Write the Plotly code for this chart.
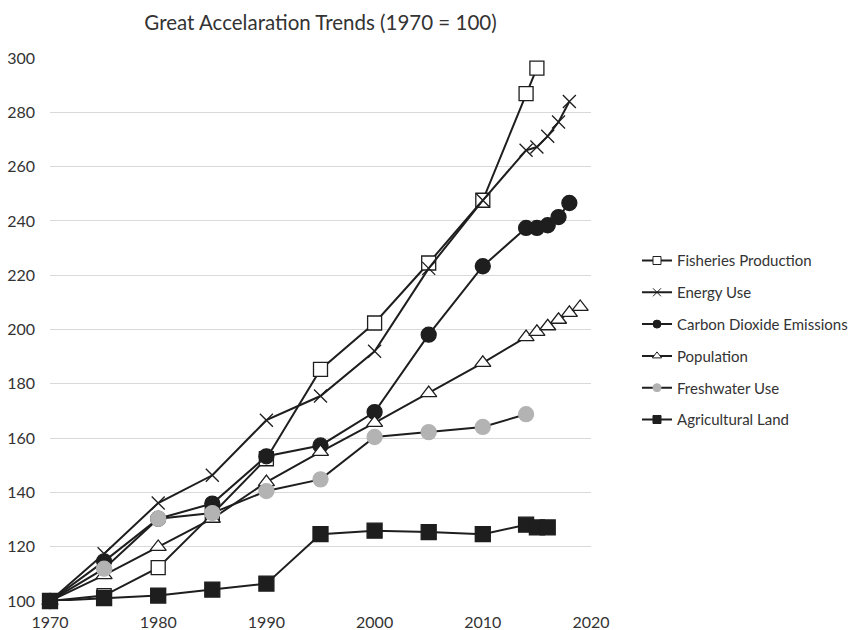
import plotly.graph_objects as go

years_main = [1970, 1975, 1980, 1985, 1990, 1995, 2000, 2005, 2010]

fish_years = years_main + [2014, 2015]
fish_vals = [100, 102, 112.3, 132, 152.4, 185.3, 202.4, 224.5, 247.6, 286.9, 296.3]

energy_years = years_main + [2014, 2015, 2016, 2017, 2018]
energy_vals = [100, 117.4, 136.1, 146.3, 166.6, 175.5, 192, 222.5, 247.6, 266, 267.2, 271.2, 276.4, 284]

co2_years = years_main + [2014, 2015, 2016, 2017, 2018]
co2_vals = [100, 114.6, 130.3, 135.9, 153.3, 157.3, 169.6, 198.1, 223.3, 237.4, 237.4, 238.4, 241.4, 246.6]

pop_years = years_main + [2014, 2015, 2016, 2017, 2018, 2019]
pop_vals = [100, 109.5, 119.9, 130.3, 143.8, 154.9, 165.6, 176.6, 187.7, 197.2, 199.1, 201.2, 203.6, 206.1, 208.3]

fresh_years = years_main + [2014]
fresh_vals = [100, 111.9, 130.3, 132.4, 140.5, 144.8, 160.4, 162.2, 164.1, 168.8]

agri_years = years_main + [2014, 2015, 2016]
agri_vals = [100, 101.1, 102, 104.2, 106.4, 124.6, 125.9, 125.4, 124.6, 128.1, 127.1, 127.1]

x_ticks = [1970, 1980, 1990, 2000, 2010, 2020]
y_ticks = [100, 120, 140, 160, 180, 200, 220, 240, 260, 280, 300]

LINE = "#1e1e1e"
GREY = "#b3b3b3"
TEXT = "#333333"
FONT = "Lato"

series = [
    ("Fisheries Production", fish_years, fish_vals, "square", "white", LINE, 14, 8),
    ("Energy Use", energy_years, energy_vals, "x-thin", LINE, LINE, 13, 8),
    ("Carbon Dioxide Emissions", co2_years, co2_vals, "circle", LINE, LINE, 15, 8),
    ("Population", pop_years, pop_vals, "triangle-up", "white", LINE, 14, 8),
    ("Freshwater Use", fresh_years, fresh_vals, "circle", GREY, GREY, 15, 8),
    ("Agricultural Land", agri_years, agri_vals, "square", LINE, LINE, 15, 8),
]

fig = go.Figure()
for name, xs, ys, sym, fill, edge, size, lsize in series:
    fig.add_trace(go.Scatter(
        x=xs, y=ys, mode="lines+markers", name=name, showlegend=False,
        line=dict(color=LINE, width=2),
        marker=dict(symbol=sym, size=size, color=fill,
                    line=dict(color=edge, width=1.3)),
        cliponaxis=False,
    ))

for i, (name, xs, ys, sym, fill, edge, size, lsize) in enumerate(series):
    fig.add_trace(go.Scatter(
        x=[None], y=[None], mode="lines+markers", name=name, showlegend=True,
        legendgroup=f"g{i}",
        line=dict(color=LINE, width=2),
        marker=dict(symbol=sym, size=lsize, color=fill,
                    line=dict(color=edge, width=1)),
    ))

fig.update_layout(
    width=856, height=630, autosize=False,
    margin=dict(l=50, r=265, t=58, b=29, autoexpand=False),
    paper_bgcolor="white", plot_bgcolor="white",
    font=dict(family=FONT, size=16, color=TEXT),
    title=dict(text="Great Accelaration Trends (1970 = 100)",
               x=0.5, xref="paper", y=0.963, yref="container",
               xanchor="center", yanchor="middle",
               font=dict(family=FONT, size=20.5, color=TEXT)),
    xaxis=dict(range=[1970, 2020], tickvals=x_ticks, ticktext=[str(t) for t in x_ticks],
               showgrid=False, zeroline=False, showline=False, ticks="",
               automargin=False, ticklabelstandoff=10, tickfont=dict(size=16)),
    yaxis=dict(range=[100, 300], tickvals=y_ticks, ticktext=[str(t) for t in y_ticks],
               showgrid=True, gridcolor="#d9d9d9", gridwidth=1, zeroline=False,
               showline=False, ticks="", ticklabelstandoff=14, automargin=False,
               tickfont=dict(size=16)),
    legend=dict(x=1.085, xanchor="left", y=0.657, yanchor="top",
                tracegroupgap=9.3, font=dict(size=15, color=TEXT),
                bgcolor="rgba(0,0,0,0)"),
)

fig.write_html("out.html", config={"displayModeBar": False},
               post_script="document.body.style.margin='0px';")
